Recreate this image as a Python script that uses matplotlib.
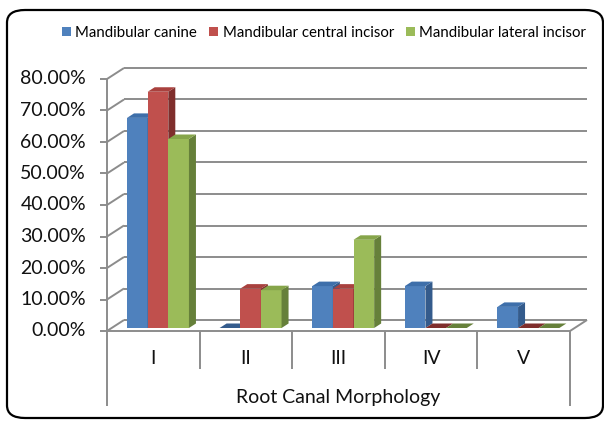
import matplotlib
matplotlib.use("Agg")
import matplotlib.pyplot as plt
from matplotlib.patches import Polygon, Patch, FancyBboxPatch

categories = ["I", "II", "III", "IV", "V"]
series_names = ["Mandibular canine", "Mandibular central incisor", "Mandibular lateral incisor"]
canine = [66.7, 0.0, 13.3, 13.3, 6.7]
central = [75.0, 12.5, 12.5, 0.0, 0.0]
lateral = [60.0, 12.0, 28.0, 0.0, 0.0]
yticks = [0, 10, 20, 30, 40, 50, 60, 70, 80]
xlabel = "Root Canal Morphology"

front_cols = ["#4F81BD", "#C0504D", "#9BBB59"]
top_cols = ["#3E6FAA", "#A9413E", "#86A54A"]
side_cols = ["#345B8C", "#7F2E2C", "#66803A"]
grid_col = "#8C8C8C"
FONT = "Lato"

W, H = 604, 421
fig = plt.figure(figsize=(W / 100, H / 100), dpi=100)
L, R, B, T = 107, 570, 331, 79
ax = fig.add_axes([L / W, (H - B) / H, (R - L) / W, (B - T) / H])
ax.set_xlim(-0.5, 4.5)
ax.set_ylim(0, 80)
ax.axis("off")

ux = 5 / (R - L)
uy = 80 / (B - T)
WX, WY = 17 * ux, 11 * uy
BY = 3 * uy
DX, DY = 7 * ux, 4.5 * uy
g_off = -0.284
bw = 0.223

kw = dict(color=grid_col, lw=1.4, clip_on=False, solid_capstyle="butt")
x0, x1 = -0.5, 4.5
for v in yticks:
    ax.plot([x0, x0 + WX], [v, v + WY], **kw)
    ax.plot([x0 + WX, x1 + WX], [v + WY, v + WY], **kw)
    ax.plot([x0 - 7 * ux, x0], [v, v], **kw)
    ax.text(x0 - 21 * ux, v, f"{v:.2f}%", ha="right", va="center",
            fontsize=14, family=FONT, color="#111111")
ax.plot([x0, x0], [0, 80], **kw)
ax.plot([x0, x1], [0, 0], **kw)
ax.plot([x1, x1 + WX], [0, WY], **kw)

# category separators
for k in range(len(categories) + 1):
    xb = x0 + k
    yend = -75 * uy if k in (0, len(categories)) else -38 * uy
    ax.plot([xb, xb], [0, yend], **kw)
for i, c in enumerate(categories):
    ax.text(i, -27 * uy, c, ha="center", va="center", fontsize=14,
            family=FONT, color="#111111")
ax.text(2.0, -66 * uy, xlabel, ha="center", va="center", fontsize=14,
        family=FONT, color="#111111")

series = [canine, central, lateral]
for i in range(len(categories)):
    for j, vals in enumerate(series):
        v = vals[i]
        l = i + g_off + j * bw
        if v > 0:
            ax.bar(l, v, width=bw, bottom=BY, align="edge", color=front_cols[j],
                   lw=0, clip_on=False, zorder=3)
            side = [(l + bw, BY), (l + bw + DX, BY + DY),
                    (l + bw + DX, BY + v + DY), (l + bw, BY + v)]
            ax.add_patch(Polygon(side, closed=True, fc=side_cols[j], lw=0,
                                 clip_on=False, zorder=3))
        top = [(l, BY + v), (l + bw, BY + v), (l + bw + DX, BY + v + DY),
               (l + DX, BY + v + DY)]
        ax.add_patch(Polygon(top, closed=True,
                             fc=top_cols[j] if v > 0 else side_cols[j], lw=0,
                             clip_on=False, zorder=3))

handles = [Patch(fc=c, ec="none") for c in front_cols]
fig.legend(handles, series_names, loc="center", bbox_to_anchor=(324 / W, 1 - 33 / H),
           ncol=3, frameon=False, prop={"family": FONT, "size": 10.8},
           handlelength=0.6, handleheight=0.6, handletextpad=0.3, columnspacing=0.8)

border = FancyBboxPatch((7 / W, 3 / H), 596 / W, 408 / H,
                        boxstyle="round,pad=0,rounding_size=0.03",
                        transform=fig.transFigure, fc="none", ec="black", lw=1.6)
fig.patches.append(border)

fig.savefig("out.png", dpi=100)
